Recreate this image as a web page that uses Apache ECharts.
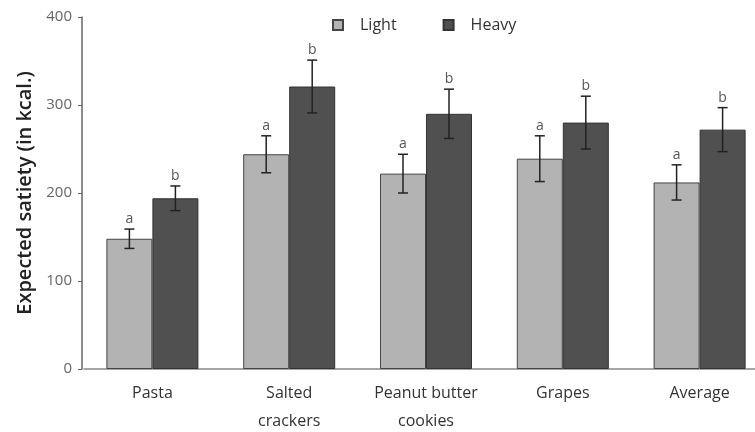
<!DOCTYPE html>
<html>
<head>
<meta charset="utf-8">
<script src="https://cdn.jsdelivr.net/npm/echarts@6/dist/echarts.min.js"></script>
<style>
  html, body { margin: 0; padding: 0; background: #fff; }
  #chart { width: 755px; height: 432px; }
</style>
</head>
<body>
<div id="chart"></div>
<script>
// data
var categories = ['Pasta', 'Salted\ncrackers', 'Peanut butter\ncookies', 'Grapes', 'Average'];
var light = [148, 244, 222, 239, 212];
var heavy = [194, 321, 290, 280, 272];
var lightErr = [11, 21, 22, 26, 20];
var heavyErr = [14, 30, 28, 30, 25];
var lightLetters = ['a', 'a', 'a', 'a', 'a'];
var heavyLetters = ['b', 'b', 'b', 'b', 'b'];
var yTicks = [0, 100, 200, 300, 400];

var barW = 46;
var font = '"Open Sans", Lato, sans-serif';

// error bar + letter, shifted to the bar's side of the category
function errorSeries(name, vals, errs, letters, shift) {
  var data = vals.map(function (v, i) { return [i, v, errs[i]]; });
  return {
    name: name + ' err',
    type: 'custom',
    z: 10,
    data: data,
    renderItem: function (params, api) {
      var i = api.value(0), v = api.value(1), e = api.value(2);
      var top = api.coord([i, v + e]);
      var bot = api.coord([i, v - e]);
      var x = top[0] + shift;
      var cap = 5;
      var st = { stroke: '#222', lineWidth: 1.5 };
      return {
        type: 'group',
        children: [
          { type: 'line', shape: { x1: x, y1: top[1], x2: x, y2: bot[1] }, style: st },
          { type: 'line', shape: { x1: x - cap, y1: top[1], x2: x + cap, y2: top[1] }, style: st },
          { type: 'line', shape: { x1: x - cap, y1: bot[1], x2: x + cap, y2: bot[1] }, style: st },
          { type: 'text', style: { text: letters[params.dataIndex], x: x, y: top[1] - 3,
              textAlign: 'center', textVerticalAlign: 'bottom',
              fill: '#555', font: '14px ' + font } }
        ]
      };
    }
  };
}

var chart = echarts.init(document.getElementById('chart'));
chart.setOption({
  animation: false,
  textStyle: { fontFamily: font },
  legend: {
    data: ['Light', 'Heavy'],
    top: 12, left: 327,
    icon: 'rect', itemWidth: 10, itemHeight: 10, itemGap: 46,
    textStyle: { fontSize: 16, color: '#333', padding: [0, 0, 0, 12] }
  },
  grid: { left: 84, right: -13, top: 17, bottom: 63, outerBoundsMode: 'none' },
  xAxis: {
    type: 'category',
    data: categories,
    axisLine: { lineStyle: { color: '#888', width: 1.5 } },
    axisTick: { show: false },
    axisLabel: { interval: 0, fontSize: 16, color: '#333', margin: 10, lineHeight: 28 }
  },
  yAxis: {
    type: 'value',
    min: 0, max: 400, interval: 100,
    offset: 2,
    name: 'Expected satiety (in kcal.)',
    nameLocation: 'middle',
    nameGap: 46,
    nameTextStyle: { fontSize: 20, color: '#222', fontWeight: 600 },
    axisLine: { show: true, lineStyle: { color: '#666', width: 1.5 } },
    axisTick: { show: true, length: 4, lineStyle: { color: '#666' } },
    splitLine: { show: false },
    axisLabel: {
      fontSize: 15, color: '#666', margin: 10,
      formatter: function (v) { return yTicks.indexOf(v) >= 0 ? String(v) : ''; }
    }
  },
  series: [
    { name: 'Light', type: 'bar', data: light, barWidth: barW, barGap: '0%',
      itemStyle: { color: '#b3b3b3', borderColor: '#444', borderWidth: 1 } },
    { name: 'Heavy', type: 'bar', data: heavy, barWidth: barW, barGap: '0%',
      itemStyle: { color: '#505050', borderColor: '#333', borderWidth: 1 } },
    errorSeries('Light', light, lightErr, lightLetters, -barW / 2),
    errorSeries('Heavy', heavy, heavyErr, heavyLetters, barW / 2)
  ]
});
</script>
</body>
</html>
